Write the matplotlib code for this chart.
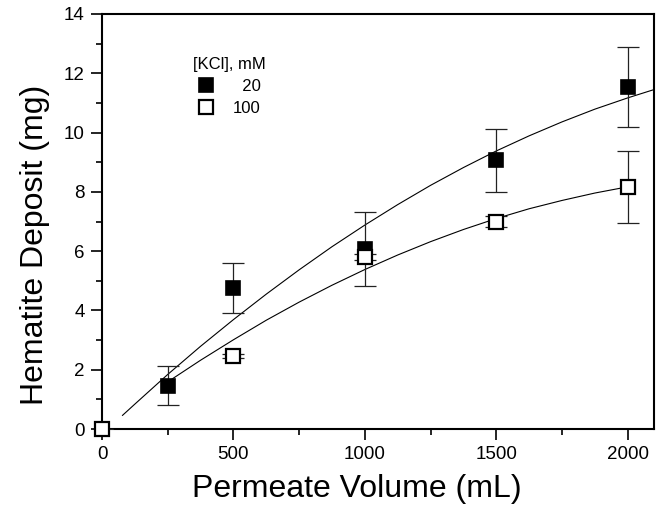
import matplotlib
matplotlib.use("Agg")
import matplotlib.pyplot as plt
from matplotlib.ticker import MultipleLocator

plt.rcParams['font.family'] = ['Liberation Sans', 'DejaVu Sans']

# measured deposits, 20 mM KCl (filled squares)
vol_20 = [250, 500, 1000, 1500, 2000]
dep_20 = [1.46, 4.76, 6.06, 9.06, 11.55]
err_20 = [0.65, 0.83, 1.25, 1.05, 1.35]

# measured deposits, 100 mM KCl (open squares)
vol_100 = [0, 500, 1000, 1500, 2000]
dep_100 = [0.0, 2.46, 5.81, 7.0, 8.16]
err_100 = [0.0, 0.07, 0.11, 0.19, 1.22]

# fitted curves
fit_x_20 = [78, 125, 250, 375, 500, 625, 750, 875, 1000, 1125, 1250, 1375,
            1500, 1625, 1750, 1875, 2000, 2100]
fit_y_20 = [0.46, 0.84, 1.84, 2.79, 3.69, 4.55, 5.37, 6.15, 6.88, 7.57, 8.22,
            8.82, 9.38, 9.89, 10.36, 10.79, 11.17, 11.45]
fit_x_100 = [250, 375, 500, 625, 750, 875, 1000, 1125, 1250, 1375, 1500,
             1625, 1750, 1875, 2000]
fit_y_100 = [1.59, 2.32, 3.01, 3.67, 4.28, 4.85, 5.38, 5.87, 6.32, 6.73, 7.10,
             7.43, 7.71, 7.96, 8.17]

fig = plt.figure(figsize=(6.57, 5.23), dpi=100)
ax = fig.add_axes([102 / 657, 1 - 429 / 523, (654 - 102) / 657, (429 - 14) / 523])

ax.plot(fit_x_20, fit_y_20, color='black', lw=0.8, zorder=2)
ax.plot(fit_x_100, fit_y_100, color='black', lw=0.8, zorder=2)

ax.errorbar(vol_20, dep_20, yerr=err_20, fmt='none', ecolor='#222222',
            elinewidth=0.9, capsize=8, capthick=0.9, zorder=3)
ax.errorbar(vol_100, dep_100, yerr=err_100, fmt='none', ecolor='#222222',
            elinewidth=0.9, capsize=8, capthick=0.9, zorder=3)

ax.plot(vol_20, dep_20, ls='none', marker='s', ms=10.5, mfc='black', mec='black',
        mew=1.2, label='  20', zorder=4, clip_on=False)
ax.plot(vol_100, dep_100, ls='none', marker='s', ms=10, mfc='white', mec='black',
        mew=1.6, label='100', zorder=5, clip_on=False)

ax.set_xlim(0, 2100)
ax.set_ylim(0, 14)
ax.xaxis.set_major_locator(MultipleLocator(500))
ax.xaxis.set_minor_locator(MultipleLocator(250))
ax.yaxis.set_major_locator(MultipleLocator(2))
ax.yaxis.set_minor_locator(MultipleLocator(1))

for s in ax.spines.values():
    s.set_linewidth(1.5)
ax.tick_params(which='major', direction='out', length=8, width=1.2, labelsize=13.5, pad=4.5)
ax.tick_params(which='minor', direction='out', length=4, width=1.2)

# labels sit a bit off-centre in the original
ax.set_xlabel('Permeate Volume (mL)', fontsize=23)
ax.set_ylabel('Hematite Deposit (mg)', fontsize=23)
ax.xaxis.set_label_coords(0.462, -0.108)
ax.yaxis.set_label_coords(-0.094, 0.443)

leg = ax.legend(title='[KCl], mM', loc='upper left', bbox_to_anchor=(0.152, 0.912),
                frameon=False, fontsize=12, title_fontsize=12,
                handletextpad=1.1, handlelength=1.0, labelspacing=0.4,
                borderaxespad=0)

fig.savefig('out.png', dpi=100)
